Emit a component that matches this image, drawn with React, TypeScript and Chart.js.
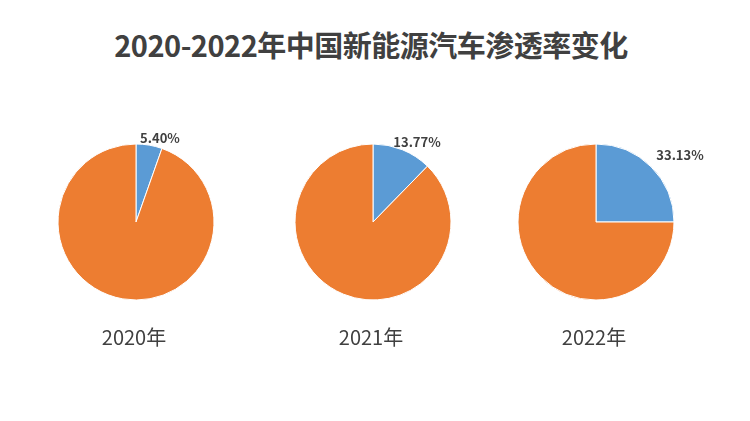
import React, { useEffect, useRef } from "react";
import { Chart, registerables } from "chart.js";

Chart.register(...registerables);

const years = ["2020年", "2021年", "2022年"];
const nevShare = [5.4, 12.3, 25];
const shareLabels = ["5.40%", "13.77%", "33.13%"];
const titleText = "2020-2022年中国新能源汽车渗透率变化";

const BLUE = "#5B9BD5";
const ORANGE = "#ED7D31";
const TEXT = "#404040";

// layout (pixel placement of each pie)
const pieCenters = [
  { x: 136, y: 222 },
  { x: 373, y: 222 },
  { x: 596, y: 222 },
];
const labelOffsets = [
  { dx: 24, dy: -84 },
  { dx: 44, dy: -80 },
  { dx: 84, dy: -67 },
];
const CW = 260;
const CH = 220;

function Pie({ idx }: { idx: number }) {
  const ref = useRef<HTMLCanvasElement | null>(null);
  useEffect(() => {
    if (!ref.current) return;
    const labelPlugin = {
      id: "shareLabel",
      afterDraw(chart: any) {
        const ctx = chart.ctx;
        const ca = chart.chartArea;
        const cx = (ca.left + ca.right) / 2;
        const cy = (ca.top + ca.bottom) / 2;
        ctx.save();
        ctx.font = "bold 13px 'Noto Sans CJK SC', 'Noto Sans', sans-serif";
        ctx.fillStyle = TEXT;
        ctx.textAlign = "center";
        ctx.textBaseline = "middle";
        ctx.fillText(shareLabels[idx], cx + labelOffsets[idx].dx, cy + labelOffsets[idx].dy);
        ctx.restore();
      },
    };
    const chart = new Chart(ref.current, {
      type: "pie",
      data: {
        labels: ["新能源", "其他"],
        datasets: [
          {
            data: [nevShare[idx], 100 - nevShare[idx]],
            backgroundColor: [BLUE, ORANGE],
            borderColor: "#ffffff",
            borderWidth: 1,
            radius: 78,
          } as any,
        ],
      },
      options: {
        responsive: false,
        animation: false,
        layout: { padding: 0 },
        plugins: {
          legend: { display: false },
          tooltip: { enabled: false },
          title: { display: false },
        },
      },
      plugins: [labelPlugin],
    });
    return () => chart.destroy();
  }, [idx]);
  const c = pieCenters[idx];
  return (
    <canvas
      ref={ref}
      width={CW}
      height={CH}
      style={{
        position: "absolute",
        left: c.x - CW / 2,
        top: c.y - CH / 2,
        width: CW,
        height: CH,
      }}
    />
  );
}

export default function App() {
  useEffect(() => {
    document.body.style.margin = "0";
  }, []);
  return (
    <div
      style={{
        position: "relative",
        width: 750,
        height: 421,
        background: "#ffffff",
        overflow: "hidden",
        fontFamily: "'Noto Sans CJK SC', 'Noto Sans', sans-serif",
      }}
    >
      <div
        style={{
          position: "absolute",
          left: 371,
          top: 44,
          transform: "translate(-50%, -50%)",
          whiteSpace: "nowrap",
          fontSize: 29,
          letterSpacing: -0.5,
          fontWeight: 700,
          color: TEXT,
          lineHeight: 1,
        }}
      >
        {titleText}
      </div>
      {years.map((_, i) => (
        <Pie key={i} idx={i} />
      ))}
      {years.map((y, i) => (
        <div
          key={"y" + i}
          style={{
            position: "absolute",
            left: pieCenters[i].x - 2,
            top: 337,
            transform: "translate(-50%, -50%)",
            whiteSpace: "nowrap",
            fontSize: 20,
            color: TEXT,
            lineHeight: 1,
          }}
        >
          {y}
        </div>
      ))}
    </div>
  );
}
